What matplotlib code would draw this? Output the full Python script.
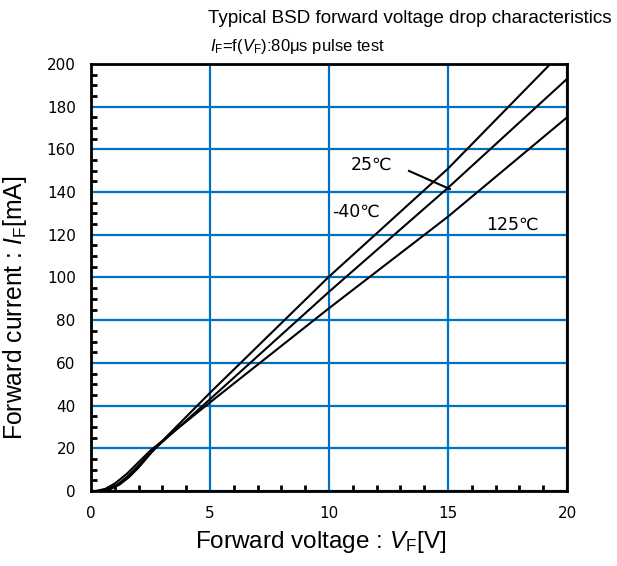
import numpy as np
import matplotlib
matplotlib.use("Agg")
import matplotlib.pyplot as plt

plt.rcParams['font.family'] = ['Liberation Sans', 'DejaVu Sans']
plt.rcParams['mathtext.fontset'] = 'custom'
plt.rcParams['mathtext.rm'] = 'Liberation Sans'
plt.rcParams['mathtext.it'] = 'Liberation Sans:italic'

# courbes (VF en V, IF en mA)
vf_m40 = [0, 0.4, 0.8, 1.2, 1.6, 2.0, 2.5, 3.0, 5.0, 10.0, 15.0, 19.3]
if_m40 = [0, 0, 0.8, 3.0, 6.5, 11.0, 17.5, 23.5, 46.0, 100.4, 151.0, 200.0]

vf_25 = [0, 0.3, 0.7, 1.1, 1.5, 2.0, 2.5, 3.0, 5.0, 10.0, 15.0, 20.0]
if_25 = [0, 0, 0.8, 3.0, 6.5, 12.0, 18.0, 23.0, 43.0, 93.3, 142.0, 193.0]

vf_125 = [0, 0.2, 0.6, 1.0, 1.5, 2.0, 2.5, 3.0, 5.0, 10.0, 15.0, 20.0]
if_125 = [0, 0, 1.0, 3.5, 8.0, 13.5, 19.0, 23.5, 41.5, 85.6, 128.5, 175.0]

fig = plt.figure(figsize=(6.17, 5.66), dpi=100)
ax = fig.add_axes([0.1475, 0.1325, 0.7715, 0.7545])

bleu = "#0070C0"
ax.grid(True, which="major", color=bleu, linewidth=1.6)
ax.set_axisbelow(True)

for x, y in [(vf_m40, if_m40), (vf_25, if_25), (vf_125, if_125)]:
    ax.plot(x, y, color="black", linewidth=1.5)

ax.set_xlim(0, 20)
ax.set_ylim(0, 200)
ax.set_xticks(np.arange(0, 21, 5))
ax.set_yticks(np.arange(0, 201, 20))
ax.set_xticks(np.arange(0, 21, 1), minor=True)
ax.set_yticks(np.arange(0, 201, 5), minor=True)
ax.tick_params(which="both", direction="in", width=2)
ax.tick_params(which="major", length=0)
ax.tick_params(axis="x", which="major", pad=11)
ax.tick_params(axis="y", which="major", pad=11)
ax.tick_params(which="minor", length=4)
for lab in ax.get_xticklabels() + ax.get_yticklabels():
    lab.set_family("DejaVu Sans")
    lab.set_fontsize(11)
for s in ax.spines.values():
    s.set_linewidth(2)

ax.set_xlabel(r"Forward voltage : $\mathit{V}_{\mathrm{F}}$[V]", fontsize=17.5)
ax.set_ylabel(r"Forward current : $\mathit{I}_{\mathrm{F}}$[mA]", fontsize=17.8)
ax.xaxis.set_label_coords(0.483, -0.088)
ax.yaxis.set_label_coords(-0.13, 0.429)

ax.text(11.8, 153, "25℃", fontsize=12.5, ha="center", va="center", family="DejaVu Sans")
ax.plot([13.36, 15.08], [149.9, 141.4], color="black", linewidth=1.5)
ax.text(11.13, 131, "-40℃", fontsize=12.5, ha="center", va="center", family="DejaVu Sans")
ax.text(17.7, 124.6, "125℃", fontsize=12.5, ha="center", va="center", family="DejaVu Sans")

fig.text(0.337, 0.967, "Typical BSD forward voltage drop characteristics", fontsize=13.6, va="center")
fig.text(0.34, 0.918, r"$\mathit{I}_{\mathrm{F}}$=f($\mathit{V}_{\mathrm{F}}$):80μs pulse test", fontsize=12, va="center")

plt.savefig("out.png", dpi=100)
